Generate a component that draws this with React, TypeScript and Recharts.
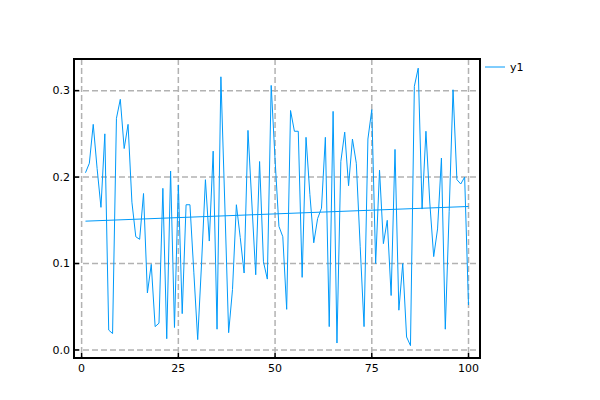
import {
  CartesianGrid,
  ComposedChart,
  Legend,
  Line,
  ReferenceArea,
  XAxis,
  YAxis,
} from "recharts";

// y1 values for x = 1..100
const yValues = [
  0.205, 0.216, 0.261, 0.21, 0.165, 0.25, 0.023, 0.019, 0.268, 0.29, 0.233, 0.261, 0.171, 0.131, 0.128, 0.181,
  0.066, 0.099, 0.027, 0.031, 0.187, 0.013, 0.207, 0.026, 0.191,
  0.042, 0.168, 0.168, 0.09, 0.012, 0.1, 0.197, 0.126, 0.23, 0.024, 0.316, 0.17, 0.02, 0.07, 0.168, 0.13, 0.089,
  0.254, 0.17, 0.087, 0.218, 0.102, 0.082, 0.306, 0.22,
  0.143, 0.131, 0.047, 0.277, 0.253, 0.253, 0.084, 0.246, 0.18, 0.124, 0.152, 0.164, 0.246, 0.027, 0.276, 0.008,
  0.218, 0.252, 0.19, 0.244, 0.216, 0.12, 0.027, 0.244, 0.278,
  0.1, 0.208, 0.123, 0.15, 0.063, 0.232, 0.046, 0.1, 0.015, 0.005, 0.305, 0.326, 0.163, 0.253, 0.17, 0.108, 0.14,
  0.222, 0.024, 0.16, 0.301, 0.197, 0.192, 0.2, 0.052,
];

// fitted trend line endpoints
const trendX = [1, 100];
const trendY = [0.149, 0.166];

const xTicks = [0, 25, 50, 75, 100];
const yTicks = [0, 0.1, 0.2, 0.3];

const X_DOMAIN: [number, number] = [-1.97, 102.97];
const Y_DOMAIN: [number, number] = [-0.0093, 0.3366];

const seriesData = yValues.map((y, i) => ({ x: i + 1, y }));
const trendData = trendX.map((x, i) => ({ x, trend: trendY[i] }));

const FONT = "'DejaVu Sans', sans-serif";
const PLOT_LEFT = 74;
const PLOT_BOTTOM = 358;

function YTick(props: any) {
  const { x, y, payload } = props;
  return (
    <g>
      <line x1={PLOT_LEFT} x2={PLOT_LEFT + 5} y1={y} y2={y} stroke="#000" strokeWidth={1.5} />
      <text x={x} y={y} dy="0.35em" textAnchor="end" fontSize={11} fontFamily={FONT} fill="#000">
        {Number(payload.value).toFixed(1)}
      </text>
    </g>
  );
}

function XTick(props: any) {
  const { x, y, payload } = props;
  return (
    <g>
      <line x1={x} x2={x} y1={PLOT_BOTTOM} y2={PLOT_BOTTOM - 5} stroke="#000" strokeWidth={1.5} />
      <text x={x} y={y} dy="0.71em" textAnchor="middle" fontSize={11} fontFamily={FONT} fill="#000">
        {payload.value}
      </text>
    </g>
  );
}

function LegendBox() {
  return (
    <svg width={60} height={20}>
      <line x1={1} x2={21} y1={9} y2={9} stroke="#009AFA" strokeWidth={1} />
      <text x={26} y={9} dy="0.35em" fontSize={11} fontFamily={FONT} fill="#000">
        y1
      </text>
    </svg>
  );
}

export default function App() {
  return (
    <div style={{ position: "absolute", left: 0, top: 0, background: "#fff" }}>
      <ComposedChart width={600} height={400} margin={{ top: 59, right: 60, bottom: 0, left: 0 }}>
        <CartesianGrid
          horizontalValues={yTicks}
          verticalValues={xTicks}
          stroke="#b2b2b2"
          strokeWidth={1.5}
          strokeDasharray="6 3"
        />
        <XAxis
          dataKey="x"
          type="number"
          domain={X_DOMAIN}
          ticks={xTicks}
          allowDataOverflow
          height={42}
          axisLine={false}
          tickLine={false}
          tickSize={0}
          tickMargin={6}
          tick={<XTick />}
        />
        <YAxis
          type="number"
          domain={Y_DOMAIN}
          ticks={yTicks}
          allowDataOverflow
          width={74}
          axisLine={false}
          tickLine={false}
          tickSize={0}
          tickMargin={4}
          tick={<YTick />}
        />
        <Line
          data={seriesData}
          dataKey="y"
          type="linear"
          stroke="#009AFA"
          strokeWidth={1}
          dot={false}
          isAnimationActive={false}
        />
        <Line
          data={trendData}
          dataKey="trend"
          type="linear"
          stroke="#009AFA"
          strokeWidth={1}
          dot={false}
          legendType="none"
          isAnimationActive={false}
        />
        <ReferenceArea
          x1={X_DOMAIN[0]}
          x2={X_DOMAIN[1]}
          y1={Y_DOMAIN[0]}
          y2={Y_DOMAIN[1]}
          fill="none"
          stroke="#000"
          strokeWidth={2}
          ifOverflow="visible"
        />
        <Legend
          layout="vertical"
          verticalAlign="top"
          align="right"
          width={60}
          content={() => <LegendBox />}
          wrapperStyle={{ position: "absolute", left: 484, top: 58, width: 60 }}
        />
      </ComposedChart>
    </div>
  );
}
